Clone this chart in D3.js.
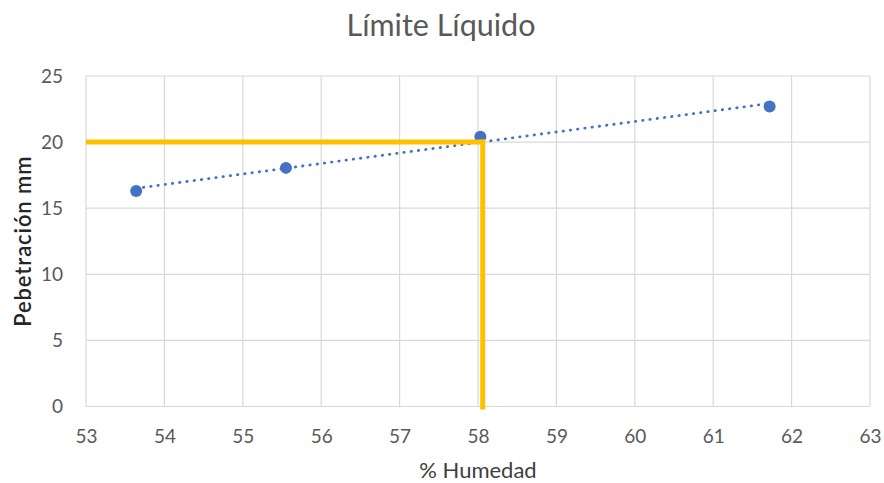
<!DOCTYPE html>
<html>
<head>
<meta charset="utf-8">
<script src="https://cdn.jsdelivr.net/npm/d3@7"></script>
<style>
  html, body { margin: 0; padding: 0; background: #fff; }
  svg { display: block; font-family: Lato, "Open Sans", sans-serif; }
</style>
</head>
<body>
<svg id="chart" width="884" height="483"></svg>
<script>
// Liquid limit test: moisture content vs. cone penetration
const humedad = [53.64, 55.55, 58.03, 61.72];
const penetracion = [16.3, 18.05, 20.4, 22.7];
const xTicks = [53, 54, 55, 56, 57, 58, 59, 60, 61, 62, 63];
const yTicks = [0, 5, 10, 15, 20, 25];
// Reading at 20 mm penetration
const limitePenetracion = [20];
const limiteHumedad = [58.06];

const svg = d3.select("#chart");
const plotLeft = 86, plotRight = 870, plotTop = 76, plotBottom = 406.5;

const x = d3.scaleLinear().domain([53, 63]).range([plotLeft, plotRight]);
const y = d3.scaleLinear().domain([0, 25]).range([plotBottom, plotTop]);

const grid = svg.append("g");
grid.selectAll("line.v").data(xTicks).join("line")
  .attr("x1", d => x(d)).attr("x2", d => x(d))
  .attr("y1", y(25)).attr("y2", y(0))
  .attr("stroke", "#d9d9d9").attr("stroke-width", 1.2);
grid.selectAll("line.h").data(yTicks).join("line")
  .attr("y1", d => y(d)).attr("y2", d => y(d))
  .attr("x1", x(53)).attr("x2", x(63))
  .attr("stroke", "#d9d9d9").attr("stroke-width", 1.2);

// Tick labels via axes (domain and tick lines hidden)
const xAxis = svg.append("g")
  .attr("transform", `translate(0,${y(0)})`)
  .call(d3.axisBottom(x).tickValues(xTicks).tickSize(0).tickFormat(d3.format("d")));
xAxis.selectAll("text").attr("y", 443 - y(0)).attr("dy", 0);
const yAxis = svg.append("g")
  .attr("transform", `translate(${x(53)},0)`)
  .call(d3.axisLeft(y).tickValues(yTicks).tickSize(0).tickPadding(23).tickFormat(d3.format("d")));
[xAxis, yAxis].forEach(a => {
  a.select(".domain").remove();
  a.selectAll("text").attr("fill", "#595959").style("font-size", "19px")
    .style("font-family", "Lato, 'Open Sans', sans-serif");
});

// Linear trendline (least squares)
const mx = d3.mean(humedad), my = d3.mean(penetracion);
const slope = d3.sum(humedad.map((v, i) => (v - mx) * (penetracion[i] - my))) /
              d3.sum(humedad.map(v => (v - mx) ** 2));
const icpt = my - slope * mx;
const xr = d3.extent(humedad);
svg.append("line")
  .attr("x1", x(xr[0])).attr("y1", y(icpt + slope * xr[0]))
  .attr("x2", x(xr[1])).attr("y2", y(icpt + slope * xr[1]))
  .attr("stroke", "#4472c4").attr("stroke-width", 2.8)
  .attr("stroke-linecap", "round").attr("stroke-dasharray", "0.4 6.9");

// Data points
svg.selectAll("circle.pt").data(humedad).join("circle")
  .attr("cx", d => x(d)).attr("cy", (d, i) => y(penetracion[i]))
  .attr("r", 6).attr("fill", "#4472c4");

// Reference lines at 20 mm
svg.append("line")
  .attr("x1", x(53)).attr("x2", x(limiteHumedad[0]) + 2.5)
  .attr("y1", y(limitePenetracion[0])).attr("y2", y(limitePenetracion[0]))
  .attr("stroke", "#ffc000").attr("stroke-width", 5);
svg.append("line")
  .attr("x1", x(limiteHumedad[0])).attr("x2", x(limiteHumedad[0]))
  .attr("y1", y(limitePenetracion[0]) - 2.5).attr("y2", y(0) + 3)
  .attr("stroke", "#ffc000").attr("stroke-width", 5);

// Titles
svg.append("text").attr("x", 441).attr("y", 36).attr("text-anchor", "middle")
  .attr("fill", "#595959").style("font-size", "30.5px").text("Límite Líquido");
svg.append("text").attr("x", (plotLeft + plotRight) / 2).attr("y", 478).attr("text-anchor", "middle")
  .attr("fill", "#404040").style("font-size", "22px").text("% Humedad");
svg.append("text").attr("transform", `translate(31,${(plotTop + plotBottom) / 2}) rotate(-90)`)
  .attr("text-anchor", "middle").attr("fill", "#262626")
  .style("font-size", "22px").style("font-weight", "600").style("letter-spacing", "0.9px")
  .text("Pebetración mm");
</script>
</body>
</html>
